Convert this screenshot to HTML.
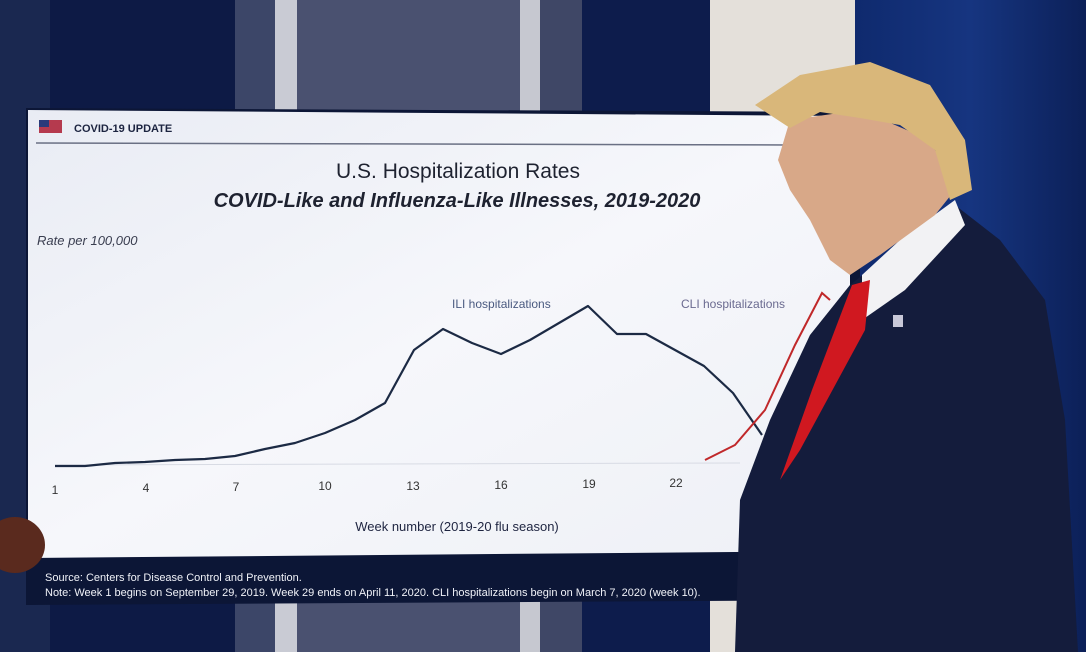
<!DOCTYPE html>
<html><head><meta charset="utf-8"><style>
html,body{margin:0;padding:0;width:1086px;height:652px;overflow:hidden;background:#0e1a3c}
svg{display:block}
text{font-family:"Liberation Sans",sans-serif}
</style></head><body>
<svg width="1086" height="652" viewBox="0 0 1086 652" xmlns="http://www.w3.org/2000/svg">
<defs>
<linearGradient id="scr" x1="0" y1="0" x2="1" y2="1">
<stop offset="0" stop-color="#e9ecf4"/><stop offset="0.5" stop-color="#f6f7fb"/><stop offset="1" stop-color="#eef0f6"/>
</linearGradient>
<linearGradient id="cur" x1="0" y1="0" x2="1" y2="0">
<stop offset="0" stop-color="#0f2a6e"/><stop offset="0.5" stop-color="#163580"/><stop offset="1" stop-color="#0c2058"/>
</linearGradient>
</defs>
<rect width="1086" height="652" fill="#101c40"/>
<rect x="0" y="0" width="50" height="652" fill="#1a2850"/>
<rect x="50" y="0" width="185" height="652" fill="#0d1a45"/>
<rect x="235" y="0" width="40" height="652" fill="#3c4668"/>
<rect x="275" y="0" width="22" height="652" fill="#c9cbd4"/>
<rect x="297" y="0" width="223" height="652" fill="#4a5170"/>
<rect x="520" y="0" width="20" height="652" fill="#c6c8d0"/>
<rect x="540" y="0" width="42" height="652" fill="#3f4766"/>
<rect x="582" y="0" width="128" height="652" fill="#0d1c4c"/>
<rect x="710" y="0" width="145" height="652" fill="#e4e0da"/>
<rect x="855" y="0" width="231" height="652" fill="url(#cur)"/>
<polygon points="26,108 860,112 860,600 26,605" fill="#0c1636"/>
<polygon points="28,110 850,116 850,551 28,558" fill="url(#scr)"/>
<rect x="39" y="120" width="23" height="13" fill="#b53a4e"/>
<rect x="39" y="120" width="10" height="7" fill="#2a3a7a"/>
<text x="74" y="132" font-size="11" font-weight="bold" fill="#1c2440">COVID-19 UPDATE</text>
<line x1="36" y1="143" x2="790" y2="145" stroke="#6a7084" stroke-width="1.5"/>
<text x="458" y="178" font-size="21" text-anchor="middle" fill="#1e2230">U.S. Hospitalization Rates</text>
<text x="457" y="207" font-size="20" font-weight="bold" font-style="italic" text-anchor="middle" fill="#1e2230">COVID-Like and Influenza-Like Illnesses, 2019-2020</text>
<text x="37" y="245" font-size="13" font-style="italic" fill="#3a3e50">Rate per 100,000</text>
<text x="452" y="308" font-size="12" fill="#4a5a80">ILI hospitalizations</text>
<text x="681" y="308" font-size="12" fill="#6a6a90">CLI hospitalizations</text>
<line x1="55" y1="465" x2="740" y2="463" stroke="#d8dbe4" stroke-width="1"/>
<g font-size="12" fill="#333" text-anchor="middle">
<text x="55" y="494">1</text><text x="146" y="492">4</text><text x="236" y="491">7</text><text x="325" y="490">10</text><text x="413" y="490">13</text><text x="501" y="489">16</text><text x="589" y="488">19</text><text x="676" y="487">22</text>
</g>
<text x="457" y="531" font-size="13" text-anchor="middle" fill="#1e2440">Week number (2019-20 flu season)</text>
<polyline fill="none" stroke="#1c2a44" stroke-width="2.2" stroke-linejoin="round" points="55,466 85,466 115,463 145,462 175,460 205,459 235,456 265,449 295,443 325,433 355,420 385,403 414,350 443,329 472,343 501,354 530,340 559,323 588,306 617,334 646,334 675,350 704,366 733,393 762,435"/>
<polyline fill="none" stroke="#c0282a" stroke-width="2" points="705,460 735,445 765,410 795,345 822,293 830,300"/>
<text x="45" y="581" font-size="11" fill="#f0f2f8">Source: Centers for Disease Control and Prevention.</text>
<text x="45" y="596" font-size="11" fill="#f0f2f8">Note: Week 1 begins on September 29, 2019. Week 29 ends on April 11, 2020. CLI hospitalizations begin on March 7, 2020 (week 10).</text>
<ellipse cx="15" cy="545" rx="30" ry="28" fill="#5a2a1e"/>
<!-- person -->
<path d="M735,652 L740,500 L770,420 L810,335 L850,285 L875,265 L955,205 L1000,240 L1045,300 L1065,420 L1078,652 Z" fill="#141c3c"/>
<path d="M862,275 L900,240 L955,200 L965,225 L905,290 L862,320 Z" fill="#f2f2f4"/>
<path d="M852,285 L870,280 L865,330 L800,450 L780,480 L812,390 Z" fill="#d01820"/>
<path d="M790,120 L860,110 L930,140 L955,190 L935,215 L880,255 L850,275 L830,260 L810,220 L790,190 L778,160 Z" fill="#d8a888"/>
<path d="M755,105 L800,75 L870,62 L930,85 L965,140 L972,190 L950,200 L935,150 L900,125 L860,118 L820,112 L790,128 Z" fill="#d9b77a"/>
<rect x="893" y="315" width="10" height="12" fill="#c8c8d8"/>
</svg>
</body></html>
